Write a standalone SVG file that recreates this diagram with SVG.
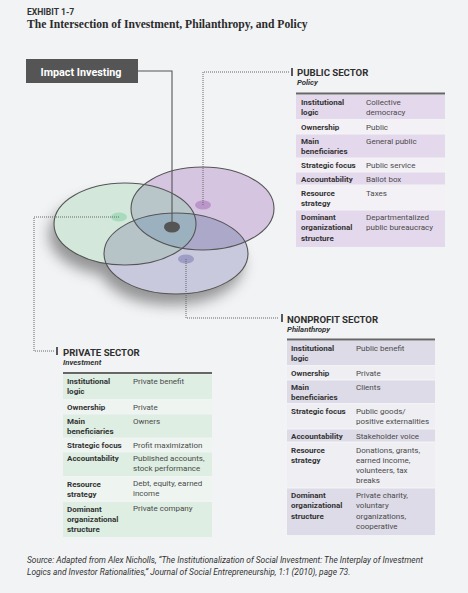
<svg xmlns="http://www.w3.org/2000/svg" width="468" height="593" viewBox="0 0 468 593">
<style>
.t1{font-family:Roboto,"Liberation Sans",sans-serif;font-size:8px;font-weight:bold;fill:#333}
.t2{font-family:Roboto,"Liberation Sans",sans-serif;font-size:8px;fill:#4a4a4a}
.hd{font-family:Roboto,"Liberation Sans",sans-serif;font-size:9.6px;font-weight:bold;fill:#2e2e2e}
.sub{font-family:Roboto,"Liberation Sans",sans-serif;font-size:7.8px;font-weight:bold;font-style:italic;fill:#333}
.dot{fill:none;stroke:#666;stroke-width:1;stroke-dasharray:1 1}
.tick{stroke:#333;stroke-width:1.6}
.topl{stroke:#666;stroke-width:2}
.pubA{fill:#e4d9ec}.pubB{fill:#f3f0f6}
.nonA{fill:#dddbe7}.nonB{fill:#eeeef3}
.priA{fill:#deeee3}.priB{fill:#eef5f0}
.ol{fill:none;stroke:#555;stroke-width:1.1}
</style>
<defs>
<ellipse id="eA" cx="125" cy="224" rx="71" ry="41"/>
<ellipse id="eB" cx="202.5" cy="208.5" rx="71.5" ry="41.5"/>
<ellipse id="eC" cx="176" cy="253.5" rx="72" ry="40.5"/>
<clipPath id="cA"><use href="#eA"/></clipPath>
<clipPath id="cB"><use href="#eB"/></clipPath>
<filter id="sh" x="-30%" y="-30%" width="160%" height="180%"><feGaussianBlur stdDeviation="7"/></filter>
</defs>
<rect width="468" height="593" fill="#f2f3f5"/>
<text x="27" y="14.5" style="font-family:Roboto,'Liberation Sans',sans-serif;font-size:8.6px;font-weight:bold;fill:#333">EXHIBIT 1-7</text>
<text x="27" y="28" style="font-family:'Liberation Serif',serif;font-size:11.6px;font-weight:bold;fill:#2b2b2b">The Intersection of Investment, Philanthropy, and Policy</text>

<g id="venn">
<g filter="url(#sh)" opacity="0.6" transform="translate(-5,11)">
<use href="#eA" fill="#555"/><use href="#eC" fill="#555"/>
</g>
<use href="#eA" fill="#d3e8db"/>
<use href="#eB" fill="#d6c5e0"/>
<use href="#eC" fill="#c9c9dd"/>
<use href="#eB" fill="#b9c6c9" clip-path="url(#cA)"/>
<use href="#eC" fill="#b6c4c8" clip-path="url(#cA)"/>
<use href="#eC" fill="#aca8c9" clip-path="url(#cB)"/>
<g clip-path="url(#cA)"><use href="#eC" fill="#9cb1bf" clip-path="url(#cB)"/></g>
<use href="#eA" class="ol"/>
<use href="#eB" class="ol"/>
<use href="#eC" class="ol"/>
<ellipse cx="119" cy="217" rx="8" ry="4.5" fill="#a8dbbd"/>
<ellipse cx="203" cy="205" rx="8" ry="4.5" fill="#bb96ca"/>
<ellipse cx="186" cy="259" rx="8" ry="4.5" fill="#9d9dc6"/>
<ellipse cx="172" cy="227" rx="8" ry="5.5" fill="#555"/>
</g>

<g id="impact">
<rect x="26" y="59" width="112" height="24" fill="#555"/>
<text x="81" y="75.5" text-anchor="middle" style="font-family:Roboto,'Liberation Sans',sans-serif;font-size:10.8px;font-weight:bold;fill:#fff">Impact Investing</text>
</g>

<g id="connectors">
<polyline points="138,71 172,71 172,222" fill="none" stroke="#555" stroke-width="1.1"/>
<polyline class="dot" points="203,205 203,72 290,72"/>
<line class="tick" x1="292" y1="68" x2="292" y2="76"/>
<polyline class="dot" points="186,259 186,318 279,318"/>
<line class="tick" x1="282" y1="314" x2="282" y2="322"/>
<polyline class="dot" points="119,217 34,217 34,351 55,351"/>
<line class="tick" x1="57" y1="347" x2="57" y2="355"/>
</g>

<g id="public">
<text x="297" y="75.5" class="hd">PUBLIC SECTOR</text>
<text x="297" y="85" class="sub">Policy</text>
<line class="topl" x1="296" y1="93.5" x2="445" y2="93.5"/>
<rect class="pubA" x="296" y="95" width="149" height="24"/>
<rect class="pubB" x="296" y="120.5" width="149" height="12.5"/>
<rect class="pubA" x="296" y="134.5" width="149" height="23"/>
<rect class="pubB" x="296" y="159" width="149" height="12"/>
<rect class="pubA" x="296" y="172.5" width="149" height="12"/>
<rect class="pubB" x="296" y="186" width="149" height="23"/>
<rect class="pubA" x="296" y="210.5" width="149" height="36.5"/>
<text class="t1" x="301" y="104.5">Institutional</text><text class="t1" x="301" y="114.8">logic</text>
<text class="t2" x="366" y="104.5">Collective</text><text class="t2" x="366" y="114.8">democracy</text>
<text class="t1" x="301" y="129.5">Ownership</text><text class="t2" x="366" y="129.5">Public</text>
<text class="t1" x="301" y="143.5">Main</text><text class="t1" x="301" y="153.8">beneficiaries</text>
<text class="t2" x="366" y="143.5">General public</text>
<text class="t1" x="301" y="168">Strategic focus</text><text class="t2" x="366" y="168">Public service</text>
<text class="t1" x="301" y="181.5">Accountability</text><text class="t2" x="366" y="181.5">Ballot box</text>
<text class="t1" x="301" y="195.5">Resource</text><text class="t1" x="301" y="205.8">strategy</text>
<text class="t2" x="366" y="195.5">Taxes</text>
<text class="t1" x="301" y="220">Dominant</text><text class="t1" x="301" y="230.3">organizational</text><text class="t1" x="301" y="240.6">structure</text>
<text class="t2" x="366" y="220">Departmentalized</text><text class="t2" x="366" y="230.3">public bureaucracy</text>
</g>

<g id="nonprofit">
<text x="287" y="322.5" class="hd">NONPROFIT SECTOR</text>
<text x="287" y="332" class="sub">Philanthropy</text>
<line class="topl" x1="287" y1="339.5" x2="435" y2="339.5"/>
<rect class="nonA" x="287" y="341" width="148" height="24"/>
<rect class="nonB" x="287" y="366.5" width="148" height="12.5"/>
<rect class="nonA" x="287" y="380.5" width="148" height="22.5"/>
<rect class="nonB" x="287" y="404.5" width="148" height="23.5"/>
<rect class="nonA" x="287" y="429.5" width="148" height="12"/>
<rect class="nonB" x="287" y="443" width="148" height="44"/>
<rect class="nonA" x="287" y="488.5" width="148" height="46.5"/>
<text class="t1" x="291" y="350.5">Institutional</text><text class="t1" x="291" y="360.8">logic</text>
<text class="t2" x="356" y="350.5">Public benefit</text>
<text class="t1" x="291" y="375.5">Ownership</text><text class="t2" x="356" y="375.5">Private</text>
<text class="t1" x="291" y="389.5">Main</text><text class="t1" x="291" y="399.8">beneficiaries</text>
<text class="t2" x="356" y="389.5">Clients</text>
<text class="t1" x="291" y="413.5">Strategic focus</text>
<text class="t2" x="356" y="413.5">Public goods/</text><text class="t2" x="356" y="423.8">positive externalities</text>
<text class="t1" x="291" y="438.5">Accountability</text><text class="t2" x="356" y="438.5">Stakeholder voice</text>
<text class="t1" x="291" y="452.5">Resource</text><text class="t1" x="291" y="462.8">strategy</text>
<text class="t2" x="356" y="452.5">Donations, grants,</text><text class="t2" x="356" y="462.8">earned income,</text><text class="t2" x="356" y="473.1">volunteers, tax</text><text class="t2" x="356" y="483.4">breaks</text>
<text class="t1" x="291" y="498">Dominant</text><text class="t1" x="291" y="508.3">organizational</text><text class="t1" x="291" y="518.6">structure</text>
<text class="t2" x="356" y="498">Private charity,</text><text class="t2" x="356" y="508.3">voluntary</text><text class="t2" x="356" y="518.6">organizations,</text><text class="t2" x="356" y="528.9">cooperative</text>
</g>

<g id="private">
<text x="63" y="355.5" class="hd">PRIVATE SECTOR</text>
<text x="63" y="365" class="sub">Investment</text>
<line class="topl" x1="63" y1="373" x2="212" y2="373"/>
<rect class="priA" x="63" y="374.5" width="149" height="24.5"/>
<rect class="priB" x="63" y="400.5" width="149" height="12.5"/>
<rect class="priA" x="63" y="414.5" width="149" height="23"/>
<rect class="priB" x="63" y="439" width="149" height="12"/>
<rect class="priA" x="63" y="452.5" width="149" height="23.5"/>
<rect class="priB" x="63" y="477.5" width="149" height="23"/>
<rect class="priA" x="63" y="502" width="149" height="35"/>
<text class="t1" x="67" y="384">Institutional</text><text class="t1" x="67" y="394.3">logic</text>
<text class="t2" x="133" y="384">Private benefit</text>
<text class="t1" x="67" y="409.5">Ownership</text><text class="t2" x="133" y="409.5">Private</text>
<text class="t1" x="67" y="423.5">Main</text><text class="t1" x="67" y="433.8">beneficiaries</text>
<text class="t2" x="133" y="423.5">Owners</text>
<text class="t1" x="67" y="448">Strategic focus</text><text class="t2" x="133" y="448">Profit maximization</text>
<text class="t1" x="67" y="461">Accountability</text>
<text class="t2" x="133" y="461">Published accounts,</text><text class="t2" x="133" y="471.3">stock performance</text>
<text class="t1" x="67" y="487">Resource</text><text class="t1" x="67" y="497.3">strategy</text>
<text class="t2" x="133" y="486">Debt, equity, earned</text><text class="t2" x="133" y="496.3">income</text>
<text class="t1" x="67" y="511.5">Dominant</text><text class="t1" x="67" y="521.8">organizational</text><text class="t1" x="67" y="532.1">structure</text>
<text class="t2" x="133" y="511">Private company</text>
</g>

<g id="source" style="font-family:Roboto,'Liberation Sans',sans-serif;font-size:8.4px;font-style:italic;fill:#333">
<text x="27" y="563">Source: Adapted from Alex Nicholls, “The Institutionalization of Social Investment: The Interplay of Investment</text>
<text x="27" y="575">Logics and Investor Rationalities,” Journal of Social Entrepreneurship, 1:1 (2010), page 73.</text>
</g>
</svg>
